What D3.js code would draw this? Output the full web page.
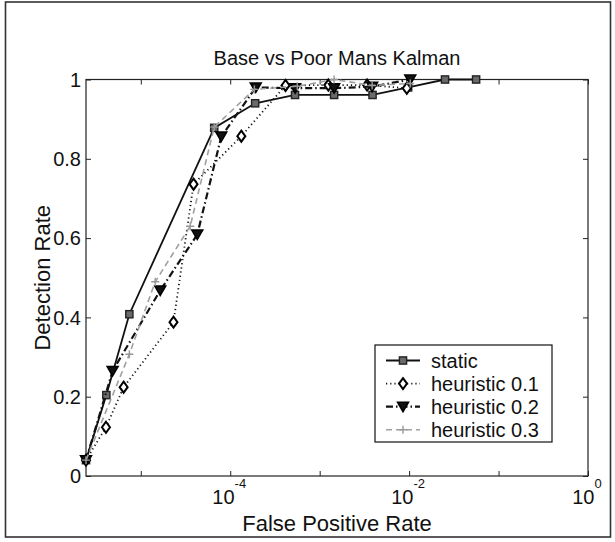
<!DOCTYPE html>
<html><head><meta charset="utf-8">
<script src="https://cdn.jsdelivr.net/npm/d3@7"></script>
<style>
html,body{margin:0;padding:0;background:#fff;}
svg{display:block;font-family:"Liberation Sans",Arial,Helvetica,sans-serif;}
</style></head>
<body><svg id="c" width="615" height="542"></svg>
<script>
// ---- data ----
const title = "Base vs Poor Mans Kalman";
const xLabel = "False Positive Rate";
const yLabel = "Detection Rate";
const seriesNames = ["static", "heuristic 0.1", "heuristic 0.2", "heuristic 0.3"];

const xStatic = [2.44e-6, 4.12e-6, 7.45e-6, 6.62e-5, 1.9e-4, 5.3e-4, 1.45e-3, 3.9e-3, 9.75e-3, 0.0252, 0.0561];
const yStatic = [0.04, 0.204, 0.408, 0.878, 0.94, 0.961, 0.961, 0.961, 0.98, 1.0, 1.0];

const xH1 = [2.44e-6, 4.08e-6, 6.43e-6, 2.32e-5, 3.89e-5, 1.33e-4, 4.15e-4, 1.25e-3, 3.39e-3, 9.42e-3];
const yH1 = [0.04, 0.123, 0.224, 0.388, 0.736, 0.857, 0.985, 0.986, 0.986, 0.978];

const xH2 = [2.44e-6, 4.84e-6, 1.65e-5, 4.28e-5, 7.94e-5, 1.93e-4, 5.32e-4, 1.45e-3, 3.86e-3, 1.03e-2];
const yH2 = [0.04, 0.265, 0.468, 0.609, 0.856, 0.98, 0.978, 0.978, 0.982, 1.0];

const xH3 = [2.44e-6, 7.45e-6, 1.45e-5, 3.57e-5, 6.62e-5, 1.86e-4, 5.62e-4, 1.45e-3, 3.86e-3, 1.03e-2];
const yH3 = [0.04, 0.307, 0.49, 0.63, 0.88, 0.975, 0.983, 1.0, 0.985, 0.99];

const xTickValues = [1e-5, 1e-4, 1e-3, 1e-2, 1e-1, 1];
const xTickExponents = ["", "-4", "", "-2", "", "0"];
const yTickValues = [0, 0.2, 0.4, 0.6, 0.8, 1];
const yTickLabels = ["0", "0.2", "0.4", "0.6", "0.8", "1"];

// ---- layout ----
const svg = d3.select("#c");
const L = 86, R = 588, T = 79.5, B = 476;
const FONT = 20;

svg.append("rect").attr("x", 5.5).attr("y", 2).attr("width", 605).attr("height", 535)
  .attr("fill", "#fff").attr("stroke", "#333").attr("stroke-width", 1.6);

const x = d3.scaleLog().domain([d3.min(xStatic), 1]).range([L, R]);
const y = d3.scaleLinear().domain([0, 1]).range([B, T]);

// axes box
svg.append("rect").attr("x", L).attr("y", T).attr("width", R - L).attr("height", B - T)
  .attr("fill", "none").attr("stroke", "#222").attr("stroke-width", 1.2);

const tl = 5;
const xAxisB = d3.axisBottom(x).tickValues(xTickValues).tickSize(-tl).tickFormat("");
const xAxisT = d3.axisTop(x).tickValues(xTickValues).tickSize(-tl).tickFormat("");
const yAxisL = d3.axisLeft(y).tickValues(yTickValues).tickSize(-tl).tickFormat("");
const yAxisR = d3.axisRight(y).tickValues(yTickValues).tickSize(-tl).tickFormat("");
[[xAxisB, `translate(0,${B})`], [xAxisT, `translate(0,${T})`],
 [yAxisL, `translate(${L},0)`], [yAxisR, `translate(${R},0)`]].forEach(([ax, tr]) => {
  const g = svg.append("g").attr("transform", tr).call(ax);
  g.select(".domain").remove();
  g.selectAll("line").attr("stroke", "#222").attr("stroke-width", 1);
});

// y tick labels
svg.append("g").selectAll("text").data(yTickValues).join("text")
  .attr("x", L - 5).attr("y", d => y(d)).attr("dy", "0.36em")
  .attr("text-anchor", "end").attr("font-size", FONT).attr("fill", "#111")
  .text((d, i) => yTickLabels[i]);

// x tick labels
xTickValues.forEach((v, i) => {
  if (!xTickExponents[i]) return;
  const t = svg.append("text").attr("x", x(v) - 1).attr("y", 504)
    .attr("text-anchor", "middle").attr("font-size", FONT).attr("fill", "#111");
  t.append("tspan").text("10");
  t.append("tspan").attr("dy", -16).attr("font-size", 13).text(xTickExponents[i]);
});

// title & labels
svg.append("text").attr("x", (L + R) / 2).attr("y", 64.5).attr("text-anchor", "middle")
  .attr("font-size", 20).attr("fill", "#111").text(title);
svg.append("text").attr("x", (L + R) / 2).attr("y", 531).attr("text-anchor", "middle")
  .attr("font-size", 22).attr("fill", "#111").text(xLabel);
svg.append("text").attr("transform", `translate(50,${(T + B) / 2}) rotate(-90)`)
  .attr("text-anchor", "middle").attr("font-size", 22).attr("fill", "#111").text(yLabel);

// markers
function marker(g, kind, cx, cy) {
  if (kind === "square") {
    g.append("rect").attr("x", cx - 3.6).attr("y", cy - 3.6).attr("width", 7.2).attr("height", 7.2)
      .attr("fill", "#6a6a6a").attr("stroke", "#222").attr("stroke-width", 1.4);
  } else if (kind === "diamond") {
    g.append("path").attr("d", `M${cx},${cy - 5.5}L${cx + 4},${cy}L${cx},${cy + 5.5}L${cx - 4},${cy}Z`)
      .attr("fill", "#fff").attr("stroke", "#000").attr("stroke-width", 2);
  } else if (kind === "tri") {
    g.append("path").attr("d", `M${cx - 5.5},${cy - 4.5}L${cx + 5.5},${cy - 4.5}L${cx},${cy + 5}Z`)
      .attr("fill", "#111").attr("stroke", "#000").attr("stroke-width", 1.5);
  } else if (kind === "plus") {
    g.append("path").attr("d", `M${cx - 4},${cy}H${cx + 4}M${cx},${cy - 4}V${cy + 4}`)
      .attr("stroke", "#999").attr("stroke-width", 1.4).attr("fill", "none");
  }
}

const series = [
  {name: seriesNames[0], xs: xStatic, ys: yStatic, color: "#111", width: 1.8, dash: null, mk: "square"},
  {name: seriesNames[1], xs: xH1, ys: yH1, color: "#111", width: 1.8, dash: "1.2,3", mk: "diamond"},
  {name: seriesNames[2], xs: xH2, ys: yH2, color: "#111", width: 2.2, dash: "7,3,1.5,3", mk: "tri"},
  {name: seriesNames[3], xs: xH3, ys: yH3, color: "#a0a0a0", width: 1.6, dash: "6,4", mk: "plus"}
];

const line = d3.line().x(d => x(d[0])).y(d => y(d[1]));
series.forEach(s => {
  const pts = s.xs.map((v, i) => [v, s.ys[i]]);
  const g = svg.append("g");
  g.append("path").attr("d", line(pts)).attr("fill", "none").attr("stroke", s.color)
    .attr("stroke-width", s.width).attr("stroke-dasharray", s.dash);
  pts.forEach(p => marker(g, s.mk, x(p[0]), y(p[1])));
});

// legend
const lg = svg.append("g");
lg.append("rect").attr("x", 375).attr("y", 345).attr("width", 177).attr("height", 97)
  .attr("fill", "#fff").attr("stroke", "#111").attr("stroke-width", 1.2);
series.forEach((s, i) => {
  const yy = 360.5 + i * 23.1;
  lg.append("path").attr("d", `M386,${yy}H420`).attr("stroke", s.color).attr("stroke-width", s.width)
    .attr("stroke-dasharray", s.dash).attr("fill", "none");
  marker(lg, s.mk, 403, yy);
  lg.append("text").attr("x", 431).attr("y", yy).attr("dy", "0.36em").attr("font-size", FONT)
    .attr("fill", "#111").text(s.name);
});
</script></body></html>
